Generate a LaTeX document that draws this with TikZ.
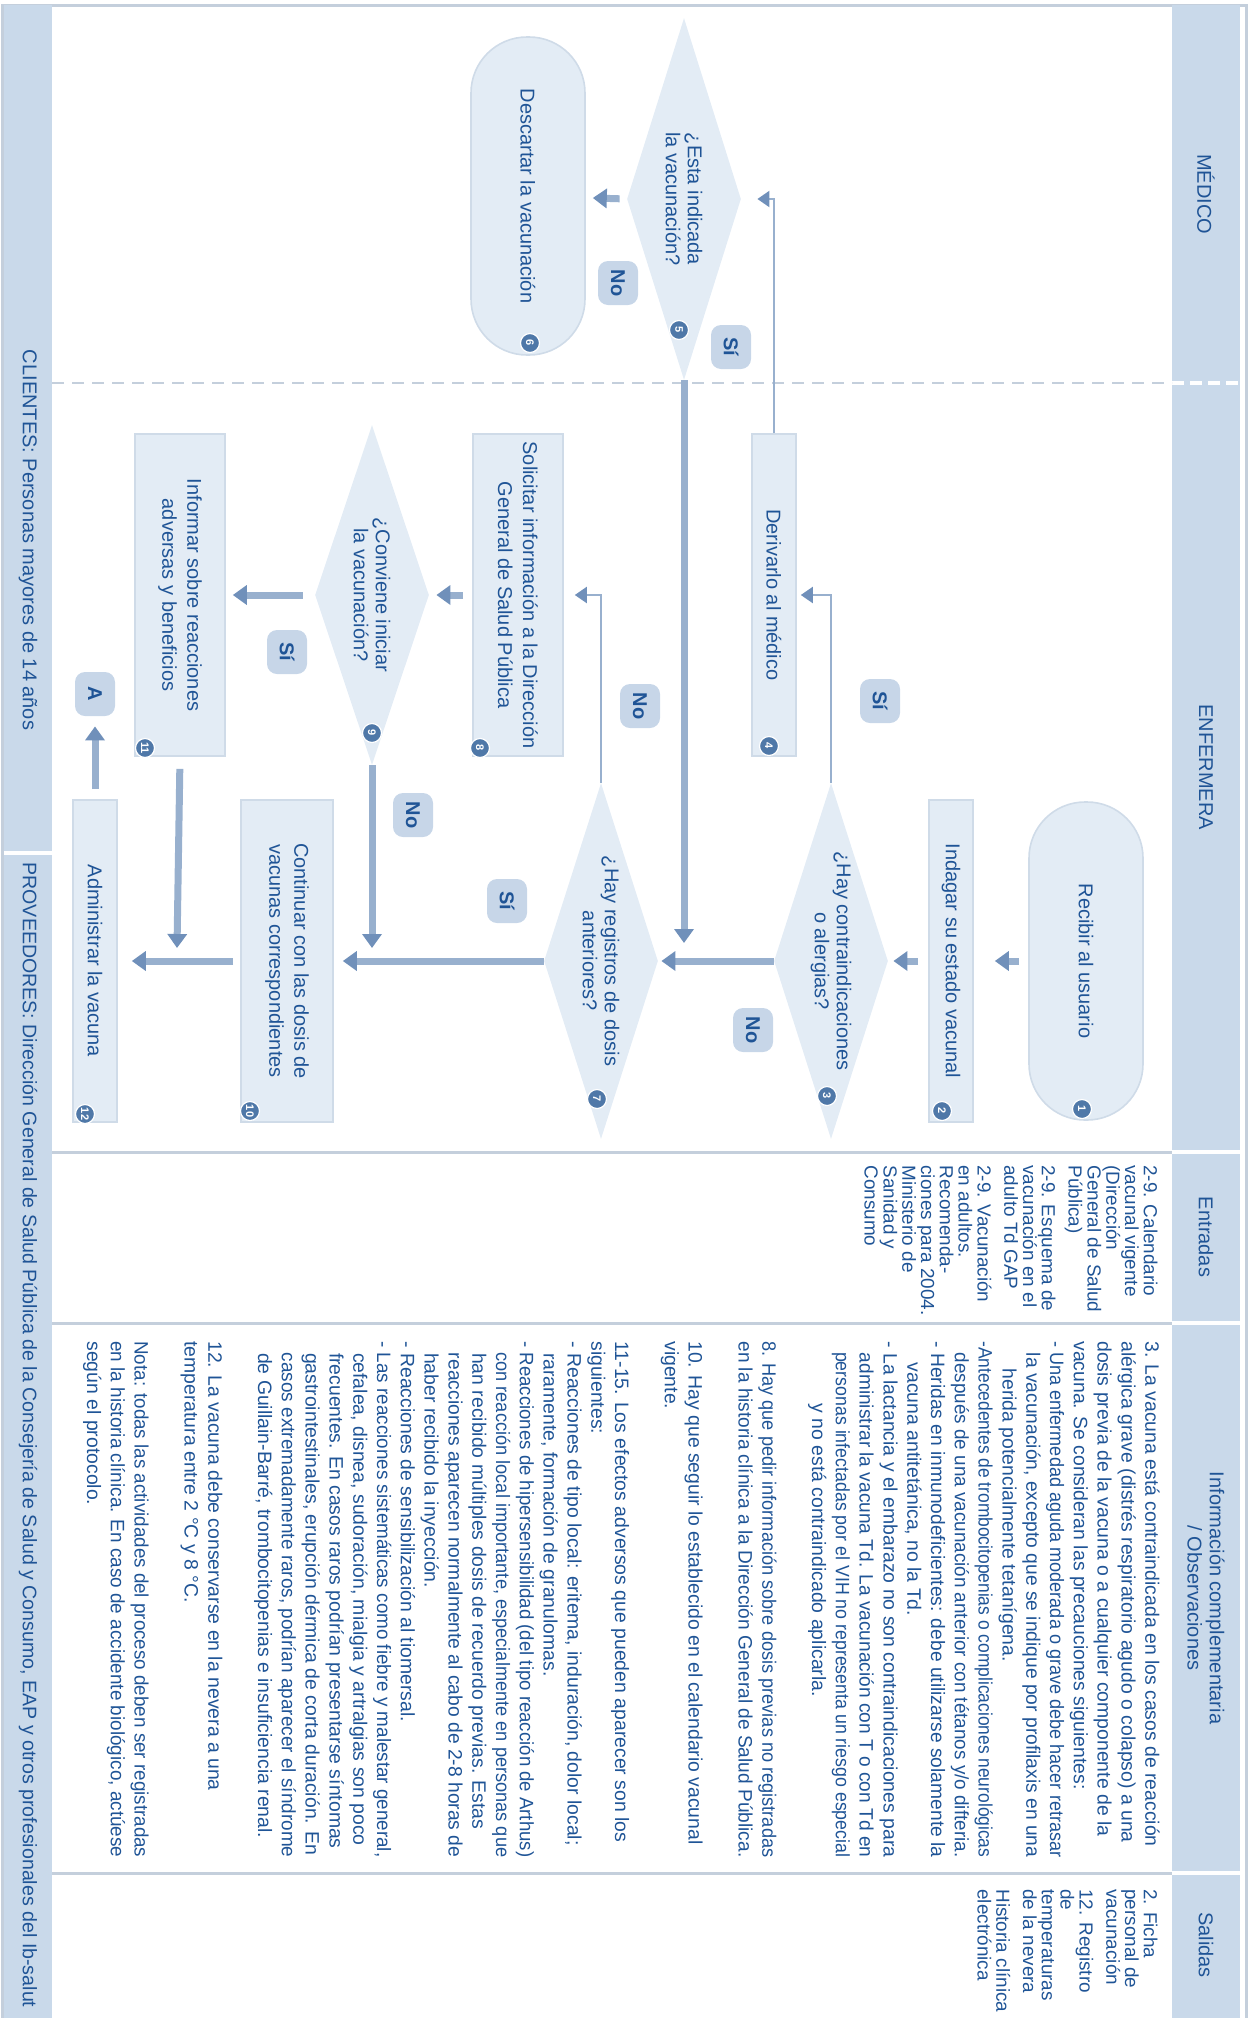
\documentclass[tikz,border=0pt]{standalone}
\usepackage{fontspec}
\usepackage{graphicx}
\setmainfont{Liberation Sans}
\usetikzlibrary{arrows.meta,shapes.geometric,positioning}

\definecolor{bandblue}{HTML}{C9D9EA}
\definecolor{shapeblue}{HTML}{E3ECF5}
\definecolor{edgeblue}{HTML}{CFDBE8}
\definecolor{inkblue}{HTML}{1F5496}
\definecolor{dotblue}{HTML}{4F78A8}
\definecolor{tagblue}{HTML}{C7D6E8}
\definecolor{flowblue}{HTML}{98B0CE}
\definecolor{tipblue}{HTML}{7090BA}
\definecolor{rulegray}{HTML}{C4CFDC}

\newcommand{\indentline}{\hspace*{0.6em}}
\newlength{\infomax}
\setlength{\infomax}{258pt}
\newsavebox{\infobox}
% squeeze a line of the notes column when it is wider than the column
\newcommand{\fitline}[1]{\sbox{\infobox}{#1}\ifdim\wd\infobox>\infomax\resizebox{\infomax}{\ht\infobox}{\usebox{\infobox}}\else\usebox{\infobox}\fi}

\begin{document}
\begin{tikzpicture}[
  rotate=-90, transform shape, x=0.5pt, y=0.5pt,
  every node/.style={text=inkblue},
  headtext/.style={align=center,font=\fontsize{10}{11}\selectfont},
  stepbox/.style={draw=edgeblue,line width=0.8pt,fill=shapeblue,minimum width=161pt,minimum height=22pt,align=center,inner sep=2pt,font=\fontsize{10}{12.5}\selectfont},
  endbox/.style={draw=edgeblue,line width=0.8pt,fill=shapeblue,rounded corners=28pt,minimum width=159pt,minimum height=57pt,align=center,font=\fontsize{10}{12.5}\selectfont},
  decision/.style={diamond,fill=shapeblue,draw=none,minimum width=178pt,minimum height=57pt,inner sep=0pt},
  dectext/.style={align=center,font=\fontsize{10}{11}\selectfont},
  numdot/.style={circle,fill=dotblue,draw=white,line width=0.6pt,text=white,inner sep=0pt,minimum size=9.5pt,font=\bfseries\fontsize{5.5}{5.5}\selectfont},
  tag/.style={fill=tagblue,rounded corners=5pt,minimum width=22pt,minimum height=20pt,inner sep=0pt,font=\bfseries\fontsize{10}{10}\selectfont},
  flowarrow/.style={draw=flowblue,line width=3.5pt,-{Triangle[width=9.5pt,length=7pt,color=tipblue]}},
  linkarrow/.style={draw=flowblue,line width=1pt,-{Triangle[width=8pt,length=6pt,color=tipblue]}},
  coltext/.style={align=left,inner sep=0pt,font=\fontsize{9.45}{9.4}\selectfont}
]
\useasboundingbox (0,0) rectangle (2018,1248);

% frame, header band and side strip
\draw[rulegray,line width=1.5pt] (5,2) rectangle (2040,1246);
\fill[bandblue] (5,1172) rectangle (2018,1240);
\fill[bandblue] (5,4) rectangle (2018,52);
\draw[white,line width=2pt] (853,4) -- (853,52);
\draw[white,line width=2pt,dash pattern=on 6pt off 3pt] (383,1172) -- (383,1240);
\foreach \u in {1152,1323,1873}
  \draw[white,line width=2pt] (\u,1172) -- (\u,1240);
\draw[rulegray,line width=1pt,dash pattern=on 6pt off 4pt] (383,52) -- (383,1172);
\foreach \u in {1152,1323,1873}
  \draw[rulegray,line width=1.5pt] (\u,52) -- (\u,1172);

% column headers
\node[headtext] (hmed) at (194,1206) {MÉDICO};
\node[headtext] (henf) at (767,1206) {ENFERMERA};
\node[headtext] (hent) at (1237,1206) {Entradas};
\node[headtext] (hinf) at (1598,1206) {Información complementaria\\/ Observaciones};
\node[headtext] (hsal) at (1945,1206) {Salidas};
\node[headtext] (cli) at (540,28) {CLIENTES: Personas mayores de 14 años};
\node[headtext,font=\fontsize{9.8}{11}\selectfont] (prov) at (1435,28) {PROVEEDORES: Dirección General de Salud Pública de la Consejería de Salud y Consumo, EAP y otros profesionales del Ib-salut};

% flow steps
\node[endbox] (n1) at (961,1086) {Recibir al usuario};
\node[stepbox] (n2) at (961,951) {Indagar su estado vacunal};
\node[decision,label={[dectext]center:{¿Hay contraindicaciones\\o alergias?}}] (n3) at (961,831) {};
\node[stepbox] (n4) at (595,774) {Derivarlo al médico};
\node[decision,minimum width=181pt,label={[dectext]center:{¿Esta indicada\\la vacunación?}}] (n5) at (199,684) {};
\node[endbox] (n6) at (196,528) {Descartar la vacunación};
\node[decision,label={[dectext]center:{¿Hay registros de dosis\\anteriores?}}] (n7) at (961,601) {};
\node[stepbox,minimum height=45pt] (n8) at (595,518) {Solicitar información a la Dirección\\General de Salud Pública};
\node[decision,minimum width=170pt,label={[dectext]center:{¿Conviene iniciar\\la vacunación?}}] (n9) at (595,372) {};
\node[stepbox,minimum height=46pt] (n10) at (961,287) {Continuar con las dosis de\\vacunas correspondientes};
\node[stepbox,minimum height=45pt] (n11) at (595,180) {Informar sobre reacciones\\adversas y beneficios};
\node[stepbox] (n12) at (961,95) {Administrar la vacuna};

% step numbers
\node[numdot] (d1) at (1109,1082) {1};
\node[numdot] (d2) at (1111,942) {2};
\node[numdot] (d3) at (1096,827) {3};
\node[numdot] (d4) at (746,769) {4};
\node[numdot] (d5) at (330,679) {5};
\node[numdot] (d6) at (343,530) {6};
\node[numdot] (d7) at (1099,597) {7};
\node[numdot] (d8) at (748,480) {8};
\node[numdot] (d9) at (733,372) {9};
\node[numdot] (d10) at (1111,250) {10};
\node[numdot] (d11) at (748,145) {11};
\node[numdot] (d12) at (1114,85) {12};

% answers
\node[tag] (s3) at (701,880) {Sí};
\node[tag] (no3) at (1030,753) {No};
\node[tag] (s5) at (347,731) {Sí};
\node[tag] (no5) at (283,618) {No};
\node[tag] (no7) at (706,640) {No};
\node[tag] (s7) at (901,507) {Sí};
\node[tag] (s9) at (652,287) {Sí};
\node[tag] (no9) at (815,413) {No};
\node[tag] (ta) at (694,95) {A};

\coordinate (m7) at (943,684);
\coordinate (m10) at (948,372);
\coordinate (m12) at (948,177);

% connectors
\draw[flowarrow,shorten <=4.5pt,shorten >=10.5pt] (n1) -- (n2);
\draw[flowarrow,shorten <=5pt,shorten >=2.5pt] (n2) -- (n3.north);
\draw[flowarrow,shorten >=1.5pt] (n3.south) -- (n7.north);
\draw[linkarrow,shorten >=2pt] (n3.west) -| (n4.north);
\draw[linkarrow,shorten >=8pt] (n4.west) -| (n5.north);
\draw[flowarrow,shorten <=3.5pt,shorten >=3.5pt] (n5.south) -- (n6);
\draw[flowarrow] (n5.east) -- (m7);
\draw[linkarrow,shorten >=5.5pt] (n7.west) -| (n8.north);
\draw[flowarrow,shorten >=4.5pt] (n7.south) -- (n10.north);
\draw[flowarrow,shorten <=4.5pt,shorten >=3.5pt] (n8) -- (n9.north);
\draw[flowarrow,shorten <=6pt,shorten >=3.5pt] (n9.south) -- (n11);
\draw[flowarrow] (n9.east) -- (m10);
\draw[flowarrow,shorten <=6pt] (n11.east) -- (m12);
\draw[flowarrow,shorten <=3.5pt,shorten >=7pt] (n10) -- (n12);
\draw[flowarrow,shorten <=5pt,shorten >=5pt] (n12.west) -- (ta);

% side columns
\node[coltext,anchor=north west] (entr) at (1165,1158) {2-9. Calendario\\
vacunal vigente\\
(Dirección\\
General de Salud\\
Pública)\\[4pt]
2-9. Esquema de\\
vacunación en el\\
adulto Td GAP\\[4pt]
2-9. Vacunación\\
en adultos.\\
Recomenda-\\
ciones para 2004.\\
Ministerio de\\
Sanidad y\\
Consumo};

\node[coltext,anchor=north west,font=\fontsize{9.7}{11.9}\selectfont] (info) at (1341,1160) {\fitline{3. La vacuna está contraindicada en los casos de reacción}\\
\fitline{alérgica grave (distrés respiratorio agudo o colapso) a una}\\
\fitline{dosis previa de la vacuna o a cualquier componente de la}\\
vacuna. Se consideran las precauciones siguientes:\\
\fitline{- Una enfermedad aguda moderada o grave debe hacer retrasar}\\
\fitline{\indentline la vacunación, excepto que se indique por profilaxis en una}\\
\hspace*{1.4em}herida potencialmente tetanígena.\\
\fitline{-Antecedentes de trombocitopenias o complicaciones neurológicas}\\
\fitline{\indentline después de una vacunación anterior con tétanos y/o difteria.}\\
\fitline{- Heridas en inmunodeficientes: debe utilizarse solamente la}\\
\hspace*{1.1em}vacuna antitetánica, no la Td.\\
\fitline{- La lactancia y el embarazo no son contraindicaciones para}\\
\fitline{\indentline administrar la vacuna Td. La vacunación con T o con Td en}\\
\fitline{\indentline personas infectadas por el VIH no representa un riesgo especial}\\
\hspace*{3.2em}y no está contraindicado aplicarla.\\[13pt]
\fitline{8. Hay que pedir información sobre dosis previas no registradas}\\
\fitline{en la historia clínica a la Dirección General de Salud Pública.}\\[13pt]
\fitline{10. Hay que seguir lo establecido en el calendario vacunal}\\
vigente.\\[13pt]
\fitline{11-15. Los efectos adversos que pueden aparecer son los}\\
siguientes:\\
\fitline{- Reacciones de tipo local: eritema, induración, dolor local;}\\
\indentline raramente, formación de granulomas.\\
\fitline{- Reacciones de hipersensibilidad (del tipo reacción de Arthus)}\\
\fitline{\indentline con reacción local importante, especialmente en personas que}\\
\fitline{\indentline han recibido múltiples dosis de recuerdo previas. Estas}\\
\fitline{\indentline reacciones aparecen normalmente al cabo de 2-8 horas de}\\
\indentline haber recibido la inyección.\\
- Reacciones de sensibilización al tiomersal.\\
\fitline{- Las reacciones sistemáticas como fiebre y malestar general,}\\
\fitline{\indentline cefalea, disnea, sudoración, mialgia y artralgias son poco}\\
\fitline{\indentline frecuentes. En casos raros podrían presentarse síntomas}\\
\fitline{\indentline gastrointestinales, erupción dérmica de corta duración. En}\\
\fitline{\indentline casos extremadamente raros, podrían aparecer el síndrome}\\
\fitline{\indentline de Guillain-Barré, trombocitopenias e insuficiencia renal.}\\[13pt]
\fitline{12. La vacuna debe conservarse en la nevera a una}\\
temperatura entre 2 °C y 8 °C.\\[13pt]
\fitline{Nota: todas las actividades del proceso deben ser registradas}\\
\fitline{en la historia clínica. En caso de accidente biológico, actúese}\\
según el protocolo.};

\node[coltext,anchor=north west] (sal) at (1889,1158) {2. Ficha\\
personal de\\
vacunación\\[4pt]
12. Registro\\
de\\
temperaturas\\
de la nevera\\[4pt]
Historia clínica\\
electrónica};
\end{tikzpicture}
\end{document}
